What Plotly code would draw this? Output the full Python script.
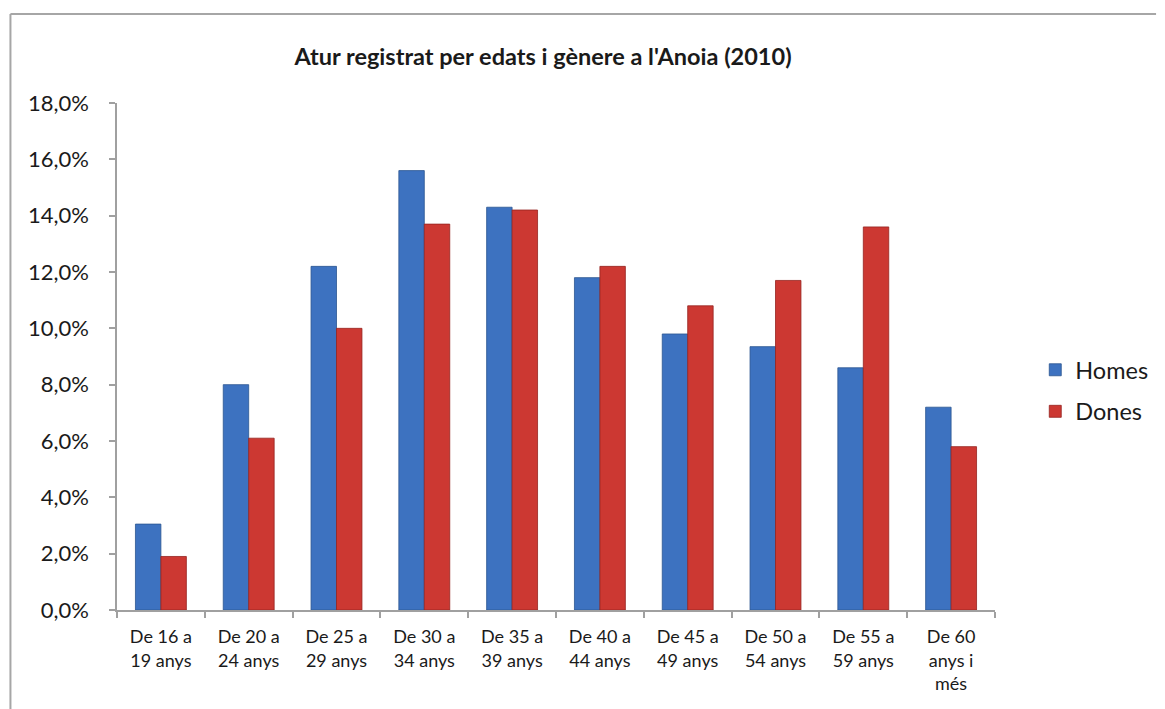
import plotly.graph_objects as go

categories = ["De 16 a<br>19 anys", "De 20 a<br>24 anys", "De 25 a<br>29 anys", "De 30 a<br>34 anys",
              "De 35 a<br>39 anys", "De 40 a<br>44 anys", "De 45 a<br>49 anys", "De 50 a<br>54 anys",
              "De 55 a<br>59 anys", "De 60<br>anys i<br>més"]
homes = [3.05, 8.0, 12.2, 15.6, 14.3, 11.8, 9.8, 9.35, 8.6, 7.2]
dones = [1.9, 6.1, 10.0, 13.7, 14.2, 12.2, 10.8, 11.7, 13.6, 5.8]
y_ticks = [0, 2, 4, 6, 8, 10, 12, 14, 16, 18]
y_ticktext = [f"{v:.1f}".replace(".", ",") + "%" for v in y_ticks]

# page body has an 8px margin: express reference pixel positions relative to the plot div
OFF = 8
W, H = 1165 - OFF, 709 - OFF
L, R, T, B = 117 - OFF, 1011 - OFF, 103 - OFF, 610 - OFF

FONT = "Lato"

fig = go.Figure()
fig.add_trace(go.Bar(name="Homes", x=categories, y=homes, legendgroup="h",
                     marker=dict(color="#3D72C0", line=dict(color="#2B5591", width=0.8))))
fig.add_trace(go.Bar(name="Dones", x=categories, y=dones, legendgroup="d",
                     marker=dict(color="#CC3832", line=dict(color="#96231F", width=0.8))))

def px_x(px):
    return (px - OFF - L) / (R - L)

def px_y(py):
    return (B - (py - OFF)) / (B - T)

fig.update_layout(
    width=W, height=H,
    margin=dict(l=L, r=W - R, t=T, b=H - B, pad=0),
    paper_bgcolor="white", plot_bgcolor="white",
    barmode="group", bargap=0.42, bargroupgap=0.0,
    font=dict(family=FONT, color="#1a1a1a"),
    title=dict(text="<b>Atur registrat per edats i gènere a l'Anoia (2010)</b>",
               x=(543 - OFF) / W, xanchor="center", y=1 - (57 - OFF) / H, yanchor="middle",
               font=dict(family=FONT, size=23.5, color="#1a1a1a")),
    legend=dict(x=px_x(1052), xanchor="left", y=px_y(391), yanchor="middle",
                font=dict(family=FONT, size=23.5, color="#1a1a1a"),
                traceorder="grouped", tracegroupgap=8, itemwidth=30,
                bgcolor="rgba(0,0,0,0)"),
    showlegend=True,
    xaxis=dict(showline=True, linecolor="#A0A0A0", linewidth=1.5,
               ticks="outside", ticklen=6, tickcolor="#A0A0A0", tickwidth=1.5,
               tickson="boundaries", showgrid=False, ticklabelstandoff=10,
               tickfont=dict(family=FONT, size=18, color="#1a1a1a")),
    yaxis=dict(range=[0, 18], tickvals=y_ticks, ticktext=y_ticktext,
               showline=True, linecolor="#A0A0A0", linewidth=1.5,
               ticks="outside", ticklen=6, tickcolor="#A0A0A0", tickwidth=1.5,
               showgrid=False, zeroline=False, ticklabelstandoff=16,
               tickfont=dict(family=FONT, size=22, color="#1a1a1a")),
    shapes=[
        dict(type="line", xref="paper", yref="paper",
             x0=px_x(8.5), x1=px_x(8.5), y0=px_y(14), y1=px_y(720),
             line=dict(color="#A6A6A6", width=2)),
        dict(type="line", xref="paper", yref="paper",
             x0=px_x(8.5), x1=px_x(1175), y0=px_y(14), y1=px_y(14),
             line=dict(color="#A6A6A6", width=2)),
    ],
)

fig.write_html("out.html")
